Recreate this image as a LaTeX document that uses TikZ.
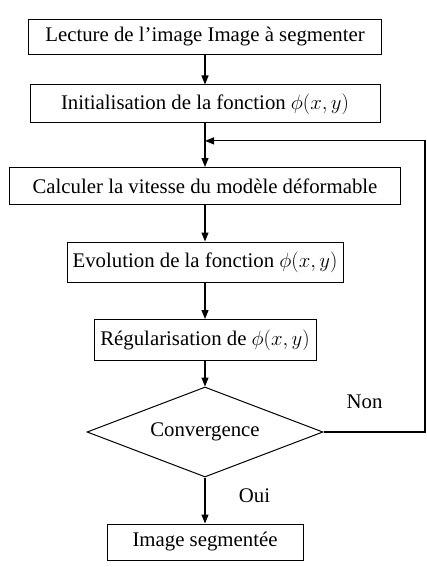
\documentclass[tikz,border=0pt]{standalone}
\usepackage{fontspec}
\setmainfont{Liberation Serif}
\usetikzlibrary{shapes.geometric, arrows.meta, positioning, calc}

\begin{document}
\begin{tikzpicture}[x=1pt, y=1pt, font=\fontsize{20.8}{24}\selectfont,
  etape/.style={draw, line width=1pt, inner sep=2pt},
  fleche/.style={-{Triangle[length=9pt, width=7pt]}, line width=1.2pt}]
  \useasboundingbox (0,0) rectangle (427,-567);
  \node[etape, minimum width=353pt, minimum height=35pt] (lecture) at (205,-37) {Lecture de l’image Image à segmenter};
  \node[etape, minimum width=350pt, minimum height=38pt, below of=lecture, node distance=67pt] (init) {Initialisation de la fonction $\phi(x,y)$};
  \node[etape, minimum width=391pt, minimum height=37pt, below of=init, node distance=82pt] (vitesse) {Calculer la vitesse du modèle déformable};
  \node[etape, minimum width=276pt, minimum height=40pt, below of=vitesse, node distance=76pt] (evol) {Evolution de la fonction $\phi(x,y)$};
  \node[etape, minimum width=222pt, minimum height=41pt, below of=evol, node distance=78pt] (regul) {Régularisation de $\phi(x,y)$};
  \node[draw, line width=1pt, diamond, aspect=2.62, minimum width=236pt, minimum height=90pt, inner sep=0pt, below of=regul, node distance=92pt] (conv) {Convergence};
  \node[etape, minimum width=196pt, minimum height=36pt, below of=conv, node distance=110pt] (fin) {Image segmentée};

  \coordinate (retour) at ($(init.south)!0.4!(vitesse.north)$);

  \draw[fleche] (lecture) -- (init);
  \draw[fleche] (init) -- (vitesse);
  \draw[fleche] (vitesse) -- (evol);
  \draw[fleche] (evol) -- (regul);
  \draw[fleche] (regul) -- (conv);
  \draw[fleche] (conv) -- node[right=30pt, pos=0.4] {Oui} (fin);
  \draw[fleche] (conv.east) -| ([xshift=220pt]retour) -- (retour);
  \node at ($(conv.east)+(41,30)$) (non) {Non};
\end{tikzpicture}
\end{document}
